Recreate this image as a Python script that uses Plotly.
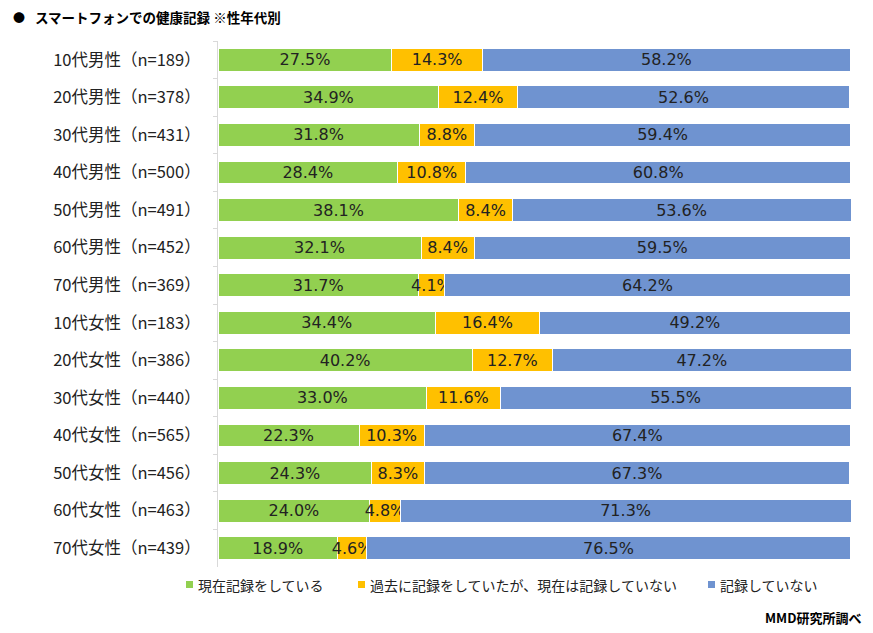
import plotly.graph_objects as go

categories = [
    "10代男性（n=189）", "20代男性（n=378）", "30代男性（n=431）", "40代男性（n=500）",
    "50代男性（n=491）", "60代男性（n=452）", "70代男性（n=369）",
    "10代女性（n=183）", "20代女性（n=386）", "30代女性（n=440）", "40代女性（n=565）",
    "50代女性（n=456）", "60代女性（n=463）", "70代女性（n=439）",
]
current = [27.5, 34.9, 31.8, 28.4, 38.1, 32.1, 31.7, 34.4, 40.2, 33.0, 22.3, 24.3, 24.0, 18.9]
past = [14.3, 12.4, 8.8, 10.8, 8.4, 8.4, 4.1, 16.4, 12.7, 11.6, 10.3, 8.3, 4.8, 4.6]
never = [58.2, 52.6, 59.4, 60.8, 53.6, 59.5, 64.2, 49.2, 47.2, 55.5, 67.4, 67.3, 71.3, 76.5]

series_names = ["現在記録をしている", "過去に記録をしていたが、現在は記録していない", "記録していない"]
colors = ["#92D050", "#FFC000", "#6F93D0"]

CJK = "Noto Sans CJK JP, Noto Sans, sans-serif"
NUM = "DejaVu Sans, Noto Sans CJK JP, sans-serif"

W, H = 873, 633
L, R, T, B = 218, 21, 41, 66
PW, PH = W - L - R, H - T - B


def px(x):
    return (x - L) / PW


def py(y):
    return 1 - (y - T) / PH


fig = go.Figure()
for name, vals, col in zip(series_names, [current, past, never], colors):
    fig.add_trace(go.Bar(
        y=categories, x=vals, name=name, orientation="h",
        marker=dict(color=col, line=dict(color="white", width=1)),
        text=[f"{v:.1f}%" for v in vals], textposition="inside",
        insidetextanchor="middle", textangle=0, constraintext="none",
        textfont=dict(family=NUM, size=16, color="#222222"),
        cliponaxis=False, showlegend=False,
    ))

fig.update_layout(
    barmode="stack", bargap=0.39,
    width=W, height=H,
    margin=dict(l=L, r=R, t=T, b=B, autoexpand=False),
    plot_bgcolor="white", paper_bgcolor="white",
    font=dict(family=CJK, size=16, color="#222222"),
    showlegend=False,
)
fig.update_xaxes(range=[0, 100.25], visible=False, fixedrange=True, automargin=False)
fig.update_yaxes(autorange="reversed", showline=True, linecolor="#D9D9D9", linewidth=1,
                 ticks="outside", tickson="boundaries", ticklen=4, tickcolor="#D9D9D9",
                 ticklabelstandoff=13, automargin=False,
                 tickfont=dict(family=CJK, size=16.5, color="#222222"), showgrid=False)

# Title
fig.add_annotation(text="<b>●</b>", xref="paper", yref="paper",
                   x=px(11), xanchor="left", y=py(17), yanchor="middle",
                   showarrow=False, font=dict(family=CJK, size=12, color="#000000"))
fig.add_annotation(text="<b>スマートフォンでの健康記録 ※性年代別</b>", xref="paper", yref="paper",
                   x=px(33), xanchor="left", y=py(17), yanchor="middle",
                   showarrow=False, font=dict(family=CJK, size=13.5, color="#000000"))

# Custom legend
legend_x = [186, 358, 708]
for name, col, lx in zip(series_names, colors, legend_x):
    fig.add_shape(type="rect", xref="paper", yref="paper",
                  x0=px(lx), x1=px(lx + 7), y0=py(581), y1=py(588),
                  fillcolor=col, line=dict(width=0))
    fig.add_annotation(text=name, xref="paper", yref="paper",
                       x=px(lx + 10), xanchor="left", y=py(584.5), yanchor="middle",
                       showarrow=False, font=dict(family=CJK, size=14, color="#222222"))

fig.add_annotation(text="<b>MMD研究所調べ</b>", xref="paper", yref="paper",
                   x=px(863), xanchor="right", y=py(617), yanchor="middle",
                   showarrow=False, font=dict(family=CJK, size=13, color="#000000"))

fig.write_html("out.html", config={"displayModeBar": False},
               post_script="document.body.style.margin='0';document.body.style.padding='0';")
